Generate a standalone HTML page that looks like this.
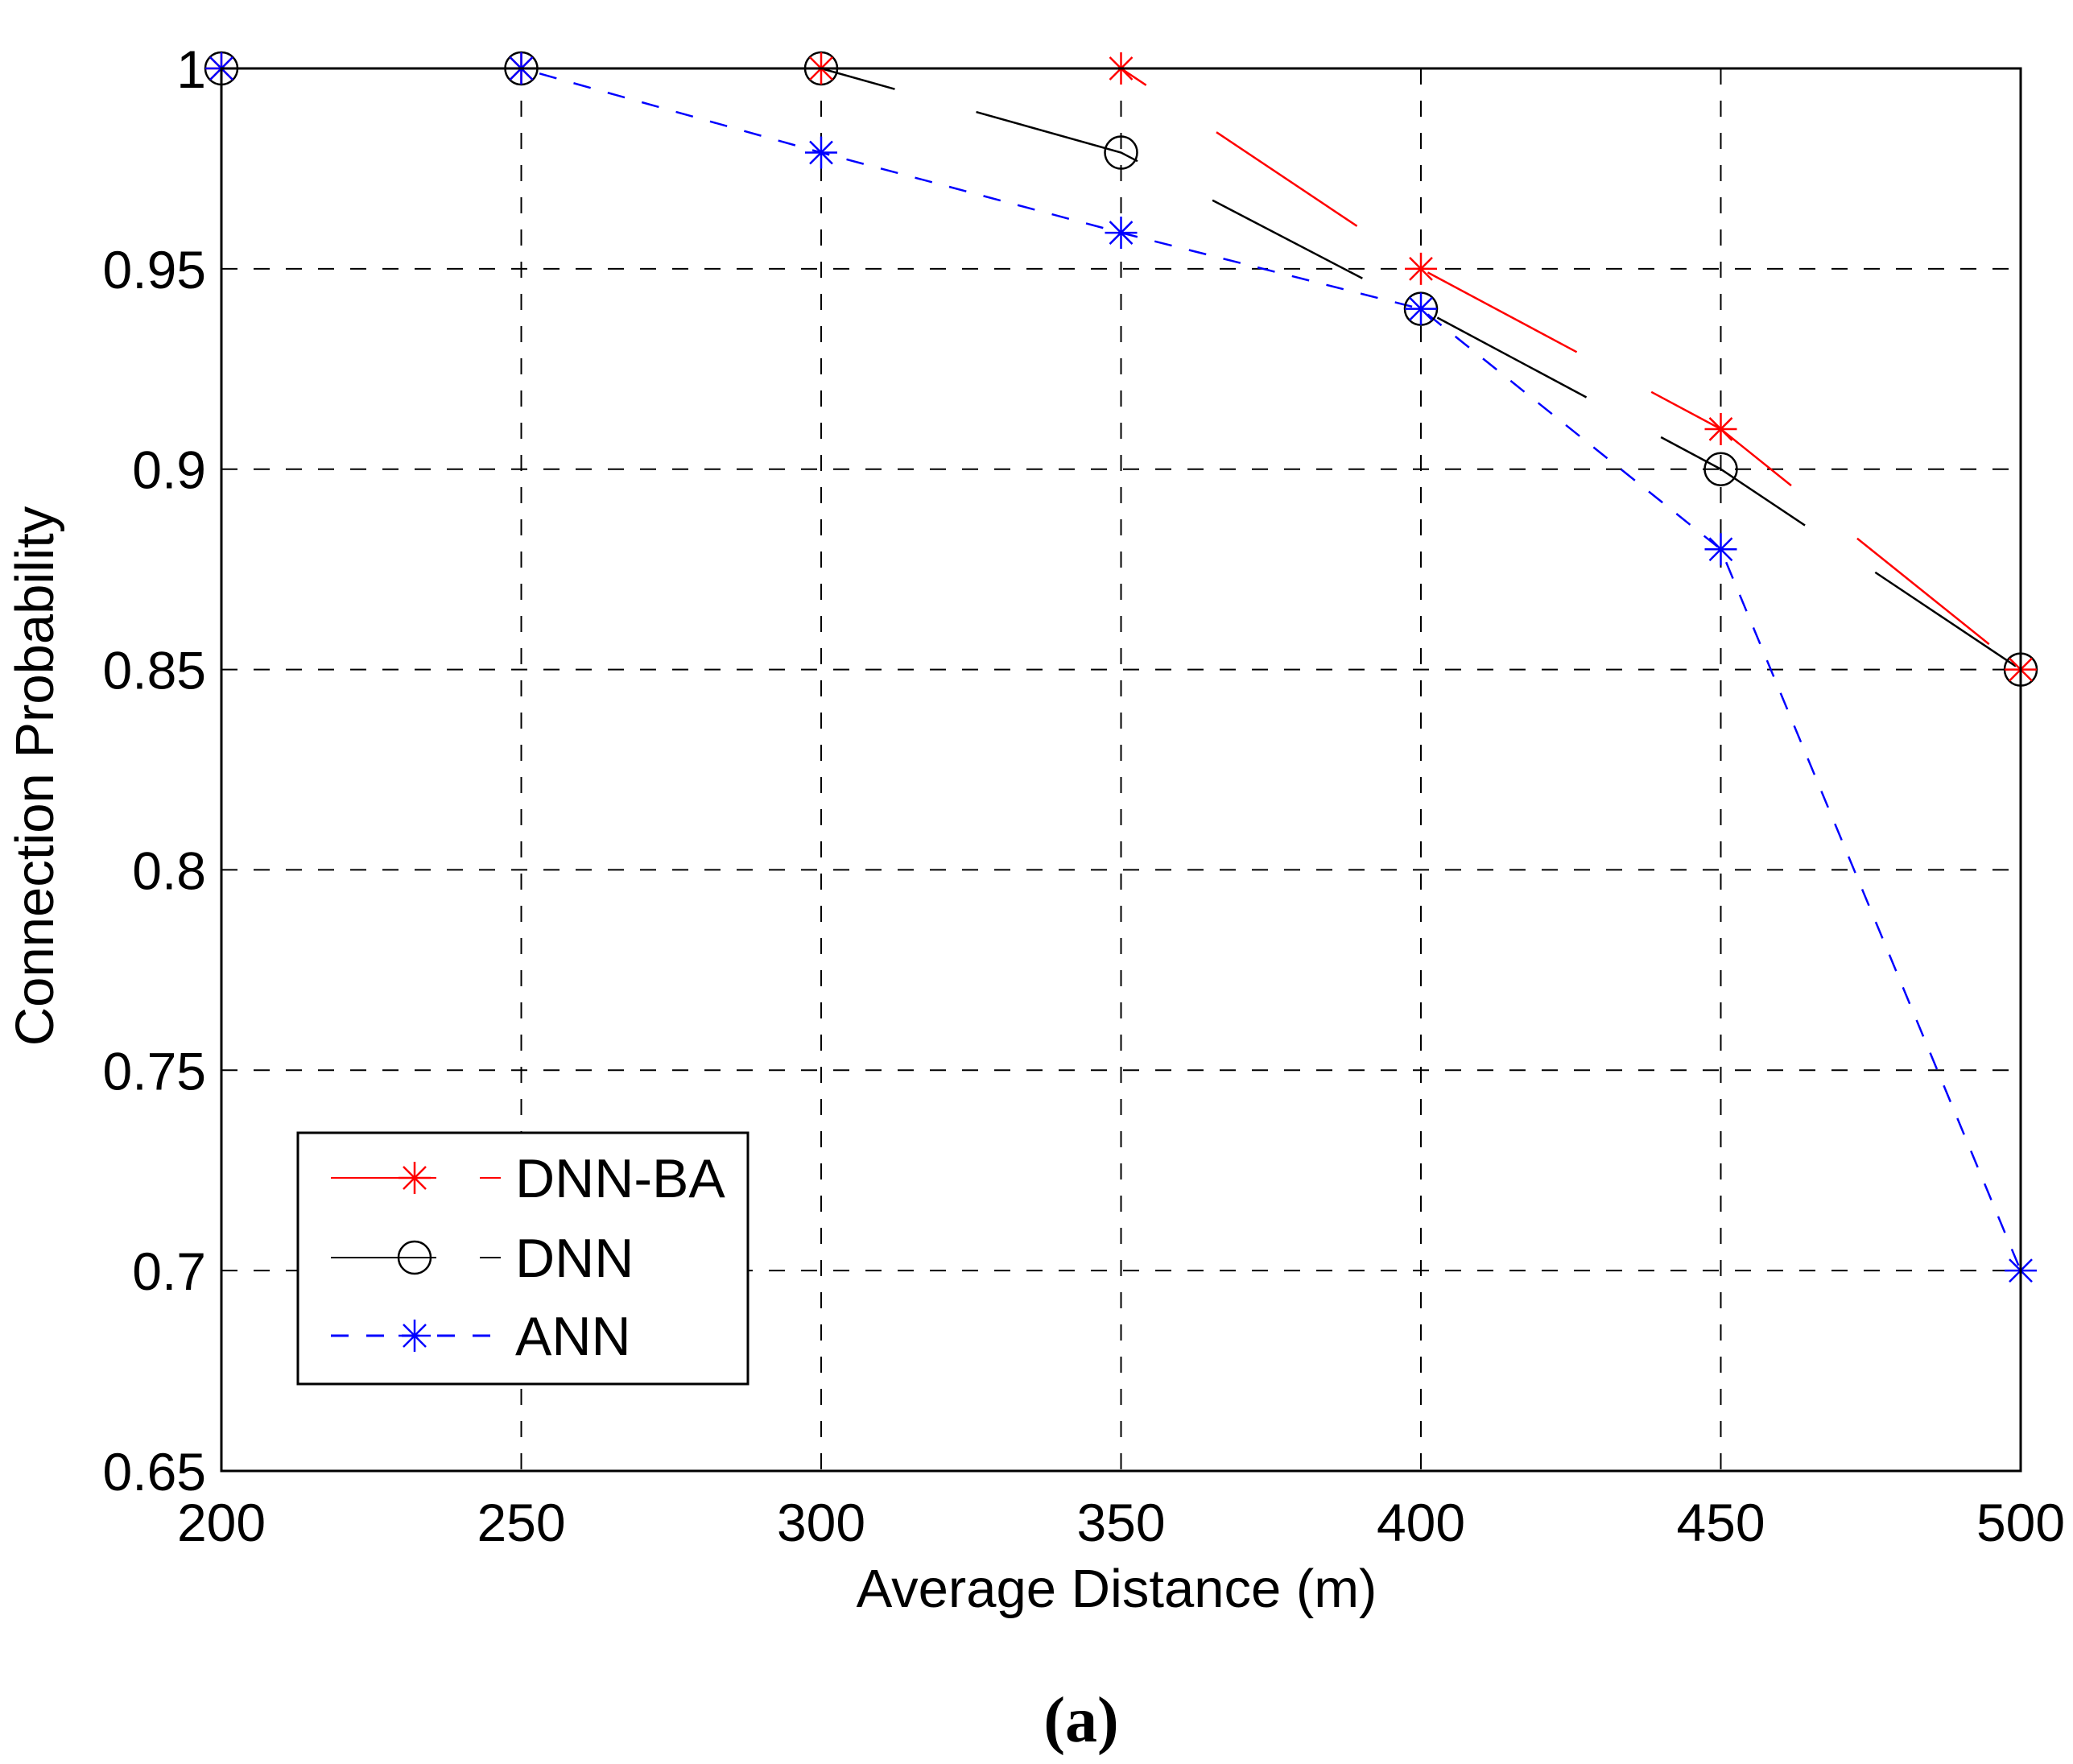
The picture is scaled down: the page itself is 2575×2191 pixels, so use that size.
<!DOCTYPE html>
<html><head><meta charset="utf-8"><style>
html,body{margin:0;padding:0;background:#fff;}
svg{display:block;font-family:"Liberation Sans",Arial,sans-serif;}
</style></head><body>
<svg id="chart" width="2575" height="2191" viewBox="0 0 2575 2191" xmlns="http://www.w3.org/2000/svg">
<rect width="2575" height="2191" fill="#fff"/>
<g id="grid"></g>
<g id="series"></g>
<rect x="275" y="85" width="2235" height="1742" fill="none" stroke="#000" stroke-width="3"/>
<g id="ticks"></g>
<text x="1387" y="1996" font-size="67" text-anchor="middle">Average Distance (m)</text>
<text transform="translate(66,964) rotate(-90)" font-size="67" text-anchor="middle">Connection Probability</text>
<text x="1343" y="2163" font-size="80" font-weight="bold" text-anchor="middle" font-family="Liberation Serif, serif">(a)</text>
<g id="legend">
<rect x="370" y="1407" width="559" height="312" fill="#fff" stroke="#000" stroke-width="3"/>
</g>
</svg>
<script>
const xValues=[200,250,300,350,400,450,500];
const dnnBA=[1,1,1,1,0.95,0.91,0.85];
const dnn=[1,1,1,0.979,0.94,0.90,0.85];
const ann=[1,1,0.979,0.959,0.94,0.88,0.70];
const xTicks=[200,250,300,350,400,450,500];
const yTicks=[0.65,0.7,0.75,0.8,0.85,0.9,0.95,1];
const yTickLabels=["0.65","0.7","0.75","0.8","0.85","0.9","0.95","1"];

const NS="http://www.w3.org/2000/svg";
const L=275,R=2510,T=85,B=1827;
const xs=v=>L+(v-200)/300*(R-L);
const ys=v=>B-(v-0.65)/0.35*(B-T);
function mk(tag,attrs,parent){const e=document.createElementNS(NS,tag);for(const k in attrs)e.setAttribute(k,attrs[k]);parent.appendChild(e);return e;}
const grid=document.getElementById('grid'),ticks=document.getElementById('ticks'),ser=document.getElementById('series'),leg=document.getElementById('legend');

xTicks.forEach(v=>{
  const g=mk('line',{x1:xs(v),x2:xs(v),y1:T,y2:B,stroke:'#000','stroke-width':2,'stroke-dasharray':'20 20'},grid);
  
  
  const t=mk('text',{x:xs(v),y:1914,'font-size':66,'text-anchor':'middle'},ticks);
  t.textContent=v;
  
  
});
yTicks.forEach((v,i)=>{
  const g=mk('line',{x1:L,x2:R,y1:ys(v),y2:ys(v),stroke:'#000','stroke-width':2,'stroke-dasharray':'20 20'},grid);
  
  
  const t=mk('text',{x:256,y:ys(v)+24,'font-size':66,'text-anchor':'end'},ticks);
  t.textContent=yTickLabels[i];
  
  
});

function asterisk(x,y,color,parent,r){
  const g=mk('g',{stroke:color,'stroke-width':2.5},parent);
  mk('line',{x1:x-r,x2:x+r,y1:y,y2:y},g);
  mk('line',{x1:x,x2:x,y1:y-r,y2:y+r},g);
  const d=r*0.7;
  mk('line',{x1:x-d,x2:x+d,y1:y-d,y2:y+d},g);
  mk('line',{x1:x-d,x2:x+d,y1:y+d,y2:y-d},g);
  return g;
}
function circ(x,y,parent){return mk('circle',{cx:x,cy:y,r:20,fill:'none',stroke:'#000','stroke-width':2.5},parent);}

const seriesDefs=[
  {name:'dnn-ba',data:dnnBA,color:'#f00',dash:'210 105',marker:'ast',label:'DNN-BA'},
  {name:'dnn',data:dnn,color:'#000',dash:'210 105',marker:'circ',label:'DNN'},
  {name:'ann',data:ann,color:'#00f',dash:'22 22',marker:'ast',label:'ANN'}
];
seriesDefs.forEach(s=>{
  const pts=s.data.map((v,i)=>xs(xValues[i])+','+ys(v)).join(' ');
  const pl=mk('polyline',{points:pts,fill:'none',stroke:s.color,'stroke-width':2.5,'stroke-dasharray':s.dash},ser);
  
  
});
[seriesDefs[1],seriesDefs[0],seriesDefs[2]].forEach(s=>{
  s.data.forEach((v,i)=>{
    const m=s.marker==='circ'?circ(xs(xValues[i]),ys(v),ser):asterisk(xs(xValues[i]),ys(v),s.color,ser,20);
    
    
  });
});

const legY=[1463,1562,1659];
seriesDefs.forEach((s,i)=>{
  const y=legY[i];
  const g=mk('g',{},leg);
  
  
  if(s.name==='ann'){
    mk('line',{x1:411,x2:622,y1:y,y2:y,stroke:s.color,'stroke-width':3,'stroke-dasharray':'22 22'},g);
  }else{
    mk('line',{x1:411,x2:542,y1:y,y2:y,stroke:s.color,'stroke-width':2},g);
    mk('line',{x1:596,x2:622,y1:y,y2:y,stroke:s.color,'stroke-width':2},g);
  }
  if(s.marker==='circ')circ(515,y,g);else asterisk(515,y,s.color,g,20);
  const t=mk('text',{x:640,y:y+24,'font-size':68},g);
  t.textContent=s.label;
});
</script>
</body></html>
